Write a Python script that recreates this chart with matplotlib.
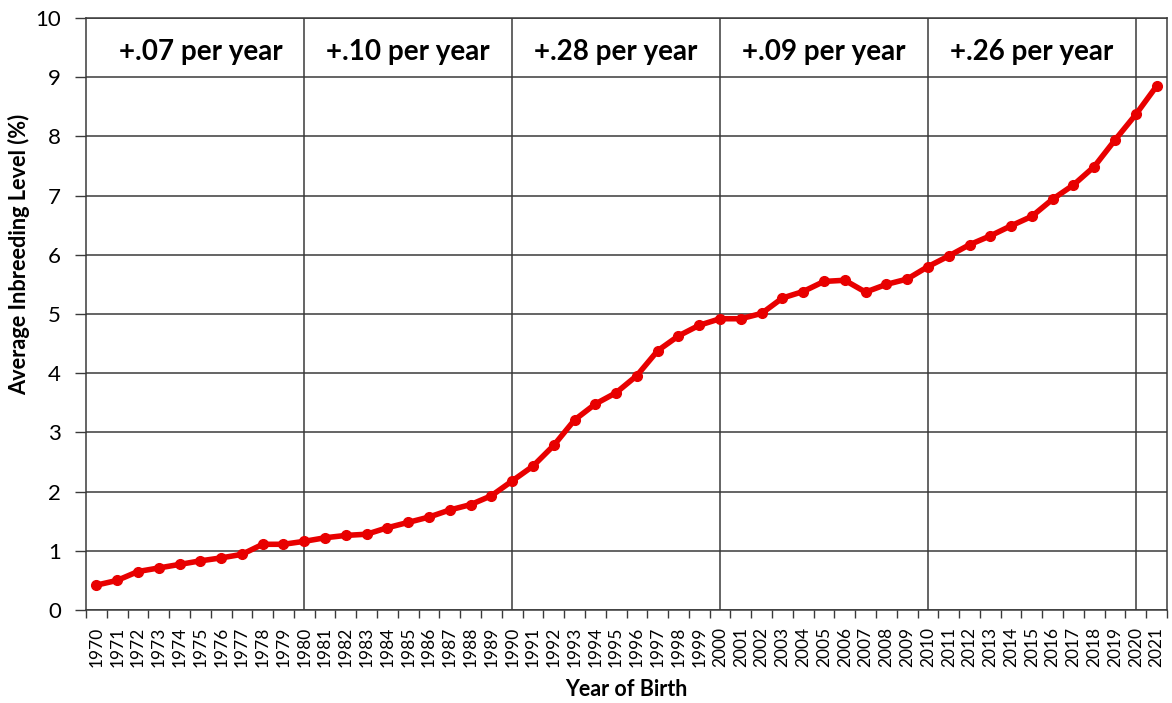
import matplotlib
matplotlib.use('Agg')
import matplotlib.pyplot as plt
import matplotlib.ticker as ticker

plt.rcParams['font.family'] = ['Lato', 'DejaVu Sans']

# Data
years = list(range(1970, 2022))
inbreeding = [0.42, 0.50, 0.65, 0.71, 0.77, 0.83, 0.88, 0.94, 1.11, 1.11,
              1.16, 1.22, 1.26, 1.28, 1.39, 1.48, 1.57, 1.69, 1.78, 1.93,
              2.18, 2.43, 2.78, 3.21, 3.48, 3.67, 3.96, 4.38, 4.63, 4.81,
              4.92, 4.92, 5.01, 5.27, 5.38, 5.55, 5.57, 5.37, 5.50, 5.59,
              5.80, 5.98, 6.17, 6.32, 6.49, 6.65, 6.94, 7.18, 7.49, 7.94,
              8.37, 8.85]

# Decade boundaries and rate annotations
decade_lines = [1980, 1990, 2000, 2010, 2020]
rate_labels = ['+.07 per year', '+.10 per year', '+.28 per year', '+.09 per year', '+.26 per year']
rate_centers = [1975, 1985, 1995, 2005, 2015]

W, H = 1172, 703
fig = plt.figure(figsize=(W / 100, H / 100), dpi=100)
ax = fig.add_axes([86 / W, 1 - 610 / H, (1167 - 86) / W, (610 - 18) / H])

grid_color = '#3a3a3a'

ax.plot(years, inbreeding, color='#e80000', linewidth=4, marker='o',
        markersize=7, zorder=3, solid_capstyle='round')

ax.set_xlim(1969.5, 2021.5)
ax.set_ylim(0, 10)

# horizontal gridlines
ax.yaxis.set_major_locator(ticker.MultipleLocator(1))
ax.grid(axis='y', color=grid_color, linewidth=1.1)
ax.set_axisbelow(True)

# vertical decade lines
for yr in decade_lines:
    ax.axvline(yr, color=grid_color, linewidth=1.1, zorder=1)

# x ticks: labels at year centers, tick marks between categories
ax.set_xticks(years)
ax.set_xticklabels([str(y) for y in years], rotation=90, fontsize=12.5)
ax.tick_params(axis='x', which='major', length=0, pad=12)
ax.xaxis.set_minor_locator(ticker.FixedLocator([y - 0.5 for y in years] + [2021.5]))
ax.tick_params(axis='x', which='minor', length=6, width=1, color=grid_color, direction='out')
ax.tick_params(axis='y', length=8, width=1, color=grid_color, labelsize=16, pad=10)

for sp in ax.spines.values():
    sp.set_color(grid_color)
    sp.set_linewidth(1.1)

for lbl, cx in zip(rate_labels, rate_centers):
    ax.text(cx, 9.43, lbl, ha='center', va='center', fontsize=20, fontweight='bold')

ax.set_xlabel('Year of Birth', fontsize=15.5, fontweight='bold')
ax.xaxis.set_label_coords(0.5, (610 - 690) / 592, transform=ax.transAxes)
ax.xaxis.label.set_va('center')
ax.set_ylabel('Average Inbreeding Level (%)', fontsize=15.7, fontweight='bold')
ax.yaxis.set_label_coords((19 - 86) / 1081, (610 - 254) / 592)
ax.yaxis.label.set_va('center')

fig.savefig('out.png', dpi=100)
